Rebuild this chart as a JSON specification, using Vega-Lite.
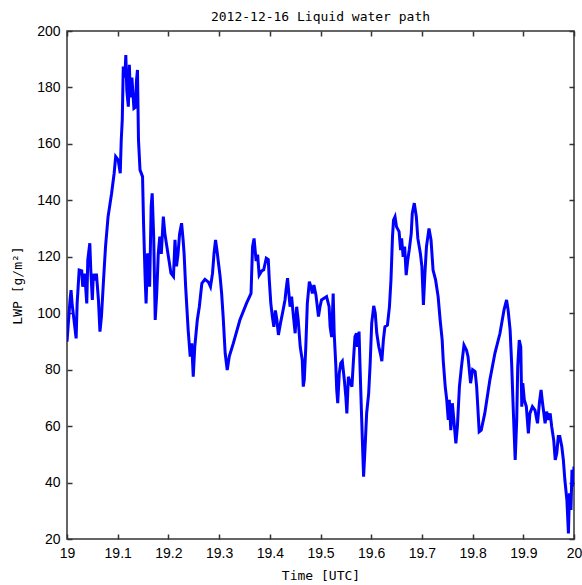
{
  "$schema": "https://vega.github.io/schema/vega-lite/v6.json",
  "width": 507,
  "height": 508,
  "autosize": "none",
  "padding": {"left": 67, "top": 31, "right": 8, "bottom": 46},
  "background": "white",
  "title": {"text": "2012-12-16 Liquid water path", "font": "DejaVu Sans Mono", "fontSize": 13, "fontWeight": "normal", "color": "#000000", "offset": 0},
  "config": {
    "view": {"stroke": "#333333", "strokeWidth": 1.5},
    "axis": {"grid": false, "domain": false, "tickColor": "#333333", "tickSize": -5, "tickWidth": 1.5,
      "labelFont": "Liberation Sans", "labelFontSize": 14, "labelColor": "#000000", "labelFlush": false, "labelOverlap": false, "labelBound": false,
      "titleFont": "DejaVu Sans Mono", "titleFontSize": 13, "titleFontWeight": "normal", "titleColor": "#000000"}
  },
  "data": {"values": [
    {"t":19.000,"lwp":89.9},{"t":19.006,"lwp":104.7},{"t":19.008,"lwp":108.2},{"t":19.010,"lwp":103.5},{"t":19.018,"lwp":91.1},{"t":19.020,"lwp":103.5},{"t":19.024,"lwp":115.3},{"t":19.029,"lwp":115},{"t":19.031,"lwp":109.4},{"t":19.035,"lwp":114},{"t":19.039,"lwp":103.5},{"t":19.041,"lwp":118.9},{"t":19.045,"lwp":124.8},{"t":19.047,"lwp":115},{"t":19.050,"lwp":104.7},{"t":19.052,"lwp":114},{"t":19.055,"lwp":111.6},{"t":19.058,"lwp":114},{"t":19.062,"lwp":104.7},{"t":19.065,"lwp":93.5},{"t":19.068,"lwp":99},{"t":19.072,"lwp":111.6},{"t":19.076,"lwp":123.6},{"t":19.081,"lwp":134.2},{"t":19.088,"lwp":142.5},{"t":19.093,"lwp":149.6},{"t":19.096,"lwp":155.5},{"t":19.101,"lwp":154.3},{"t":19.105,"lwp":149.6},{"t":19.107,"lwp":161.4},{"t":19.109,"lwp":168.5},{"t":19.111,"lwp":187.4},{"t":19.114,"lwp":183.5},{"t":19.116,"lwp":191.5},{"t":19.118,"lwp":178.9},{"t":19.121,"lwp":173.2},{"t":19.123,"lwp":188},{"t":19.125,"lwp":176.5},{"t":19.128,"lwp":183.5},{"t":19.132,"lwp":172.6},{"t":19.135,"lwp":173},{"t":19.137,"lwp":182.4},{"t":19.139,"lwp":186.2},{"t":19.141,"lwp":161.4},{"t":19.144,"lwp":150.8},{"t":19.149,"lwp":148.4},{"t":19.151,"lwp":131.9},{"t":19.154,"lwp":113},{"t":19.156,"lwp":103.5},{"t":19.159,"lwp":121.2},{"t":19.163,"lwp":109.4},{"t":19.166,"lwp":137.8},{"t":19.168,"lwp":142.5},{"t":19.171,"lwp":127},{"t":19.174,"lwp":97.6},{"t":19.177,"lwp":107},{"t":19.180,"lwp":121},{"t":19.183,"lwp":127.1},{"t":19.186,"lwp":121},{"t":19.190,"lwp":134.2},{"t":19.193,"lwp":128.3},{"t":19.197,"lwp":123.6},{"t":19.201,"lwp":118.9},{"t":19.205,"lwp":114.2},{"t":19.210,"lwp":113},{"t":19.213,"lwp":126},{"t":19.216,"lwp":116.6},{"t":19.219,"lwp":121},{"t":19.222,"lwp":128},{"t":19.226,"lwp":131.9},{"t":19.229,"lwp":126},{"t":19.231,"lwp":121},{"t":19.234,"lwp":109.4},{"t":19.239,"lwp":94},{"t":19.243,"lwp":84.6},{"t":19.246,"lwp":89.3},{"t":19.249,"lwp":77.5},{"t":19.252,"lwp":88.1},{"t":19.257,"lwp":97.6},{"t":19.261,"lwp":102.3},{"t":19.266,"lwp":110.6},{"t":19.272,"lwp":112},{"t":19.279,"lwp":111},{"t":19.283,"lwp":109.4},{"t":19.287,"lwp":114.1},{"t":19.290,"lwp":121.2},{"t":19.293,"lwp":126},{"t":19.296,"lwp":122},{"t":19.298,"lwp":118.9},{"t":19.302,"lwp":113},{"t":19.305,"lwp":107},{"t":19.308,"lwp":98.8},{"t":19.312,"lwp":85.8},{"t":19.316,"lwp":79.9},{"t":19.320,"lwp":84.6},{"t":19.328,"lwp":89.3},{"t":19.341,"lwp":97.6},{"t":19.354,"lwp":103.5},{"t":19.363,"lwp":107},{"t":19.364,"lwp":112.8},{"t":19.366,"lwp":123.6},{"t":19.369,"lwp":126.5},{"t":19.373,"lwp":118.5},{"t":19.376,"lwp":120.8},{"t":19.379,"lwp":113.5},{"t":19.384,"lwp":115},{"t":19.388,"lwp":115.4},{"t":19.393,"lwp":119.5},{"t":19.397,"lwp":119},{"t":19.399,"lwp":111.8},{"t":19.402,"lwp":103.5},{"t":19.405,"lwp":98.8},{"t":19.408,"lwp":95.2},{"t":19.411,"lwp":101},{"t":19.414,"lwp":97.6},{"t":19.417,"lwp":92.3},{"t":19.421,"lwp":96.4},{"t":19.425,"lwp":100},{"t":19.430,"lwp":104.7},{"t":19.432,"lwp":108.2},{"t":19.435,"lwp":112.4},{"t":19.437,"lwp":108.2},{"t":19.440,"lwp":102.3},{"t":19.443,"lwp":105.9},{"t":19.446,"lwp":100},{"t":19.450,"lwp":92.9},{"t":19.453,"lwp":102.3},{"t":19.456,"lwp":97.6},{"t":19.460,"lwp":88.1},{"t":19.464,"lwp":83.4},{"t":19.466,"lwp":74},{"t":19.468,"lwp":76.4},{"t":19.471,"lwp":88.1},{"t":19.474,"lwp":103.5},{"t":19.478,"lwp":111.2},{"t":19.481,"lwp":109.4},{"t":19.484,"lwp":107},{"t":19.487,"lwp":110},{"t":19.491,"lwp":106.5},{"t":19.496,"lwp":98.8},{"t":19.499,"lwp":102.3},{"t":19.502,"lwp":104.7},{"t":19.512,"lwp":105.9},{"t":19.517,"lwp":102.3},{"t":19.519,"lwp":95.2},{"t":19.522,"lwp":91.6},{"t":19.525,"lwp":107},{"t":19.527,"lwp":92.9},{"t":19.530,"lwp":82.3},{"t":19.532,"lwp":72.8},{"t":19.534,"lwp":68.1},{"t":19.537,"lwp":78.7},{"t":19.540,"lwp":82.3},{"t":19.543,"lwp":83},{"t":19.547,"lwp":76.4},{"t":19.550,"lwp":70.4},{"t":19.552,"lwp":64.5},{"t":19.555,"lwp":77.5},{"t":19.559,"lwp":75.2},{"t":19.562,"lwp":74},{"t":19.565,"lwp":83.4},{"t":19.568,"lwp":91.7},{"t":19.571,"lwp":92.9},{"t":19.573,"lwp":88.1},{"t":19.576,"lwp":93.5},{"t":19.578,"lwp":81},{"t":19.580,"lwp":69.3},{"t":19.583,"lwp":52.7},{"t":19.585,"lwp":42.1},{"t":19.588,"lwp":52.7},{"t":19.591,"lwp":64.5},{"t":19.595,"lwp":71.6},{"t":19.598,"lwp":82.3},{"t":19.601,"lwp":96.4},{"t":19.605,"lwp":102.6},{"t":19.608,"lwp":100},{"t":19.611,"lwp":92.9},{"t":19.615,"lwp":88.1},{"t":19.618,"lwp":85.8},{"t":19.621,"lwp":83},{"t":19.624,"lwp":90.5},{"t":19.627,"lwp":95.2},{"t":19.632,"lwp":95.8},{"t":19.636,"lwp":102.3},{"t":19.639,"lwp":111.8},{"t":19.642,"lwp":127.1},{"t":19.644,"lwp":133},{"t":19.647,"lwp":134.2},{"t":19.650,"lwp":130.6},{"t":19.655,"lwp":128.9},{"t":19.658,"lwp":122.4},{"t":19.660,"lwp":126.5},{"t":19.663,"lwp":120},{"t":19.666,"lwp":123.6},{"t":19.669,"lwp":113.5},{"t":19.672,"lwp":118.7},{"t":19.675,"lwp":122.4},{"t":19.679,"lwp":128.3},{"t":19.681,"lwp":135.4},{"t":19.685,"lwp":139},{"t":19.689,"lwp":134.2},{"t":19.692,"lwp":126.5},{"t":19.697,"lwp":121.2},{"t":19.700,"lwp":116.5},{"t":19.703,"lwp":102.9},{"t":19.706,"lwp":114.2},{"t":19.709,"lwp":123.6},{"t":19.714,"lwp":130},{"t":19.718,"lwp":126},{"t":19.722,"lwp":115.3},{"t":19.727,"lwp":111.8},{"t":19.732,"lwp":105.9},{"t":19.736,"lwp":97.6},{"t":19.740,"lwp":90.5},{"t":19.742,"lwp":83.4},{"t":19.746,"lwp":74},{"t":19.749,"lwp":69.3},{"t":19.752,"lwp":62.2},{"t":19.754,"lwp":69.3},{"t":19.757,"lwp":58.6},{"t":19.760,"lwp":68.1},{"t":19.763,"lwp":62.2},{"t":19.767,"lwp":53.9},{"t":19.770,"lwp":59.8},{"t":19.774,"lwp":74},{"t":19.778,"lwp":81},{"t":19.783,"lwp":88.7},{"t":19.788,"lwp":86.9},{"t":19.791,"lwp":84.6},{"t":19.796,"lwp":75.2},{"t":19.800,"lwp":80},{"t":19.805,"lwp":79.3},{"t":19.808,"lwp":74},{"t":19.813,"lwp":58},{"t":19.817,"lwp":58.6},{"t":19.824,"lwp":64.5},{"t":19.834,"lwp":76.3},{"t":19.844,"lwp":85.8},{"t":19.854,"lwp":92.9},{"t":19.862,"lwp":101.2},{"t":19.867,"lwp":104.7},{"t":19.870,"lwp":101.2},{"t":19.874,"lwp":94},{"t":19.877,"lwp":82.3},{"t":19.880,"lwp":66.9},{"t":19.884,"lwp":48},{"t":19.887,"lwp":62.2},{"t":19.889,"lwp":81},{"t":19.892,"lwp":90.5},{"t":19.895,"lwp":88.1},{"t":19.897,"lwp":66.9},{"t":19.899,"lwp":75.2},{"t":19.902,"lwp":69.3},{"t":19.906,"lwp":66.9},{"t":19.910,"lwp":57.4},{"t":19.913,"lwp":64.5},{"t":19.918,"lwp":66.9},{"t":19.923,"lwp":65.7},{"t":19.928,"lwp":61},{"t":19.932,"lwp":68.7},{"t":19.935,"lwp":72.8},{"t":19.938,"lwp":68.1},{"t":19.943,"lwp":61},{"t":19.946,"lwp":65.1},{"t":19.950,"lwp":62.2},{"t":19.953,"lwp":64.5},{"t":19.956,"lwp":59.8},{"t":19.960,"lwp":55},{"t":19.963,"lwp":48},{"t":19.966,"lwp":50.4},{"t":19.969,"lwp":56.3},{"t":19.972,"lwp":56.3},{"t":19.976,"lwp":52.7},{"t":19.979,"lwp":48},{"t":19.982,"lwp":40.9},{"t":19.986,"lwp":33.8},{"t":19.989,"lwp":22},{"t":19.991,"lwp":36.2},{"t":19.994,"lwp":30.3},{"t":19.996,"lwp":44.5},{"t":19.998,"lwp":38.6},{"t":20.000,"lwp":45.7}
  ]},
  "layer": [
    {
      "mark": {"type": "line", "color": "#0000ff", "strokeWidth": 3, "clip": true},
      "encoding": {
        "x": {"field": "t", "type": "quantitative", "scale": {"domain": [19, 20], "nice": false, "zero": false},
          "axis": {"orient": "bottom", "values": [19, 19.1, 19.2, 19.3, 19.4, 19.5, 19.6, 19.7, 19.8, 19.9, 20], "format": "~g", "title": "Time [UTC]", "labelPadding": 12, "titlePadding": 9}},
        "y": {"field": "lwp", "type": "quantitative", "scale": {"domain": [20, 200], "nice": false, "zero": false},
          "axis": {"orient": "left", "values": [20, 40, 60, 80, 100, 120, 140, 160, 180, 200], "title": "LWP [g/m²]", "labelPadding": 12, "titlePadding": 12}}
      }
    },
    {
      "mark": {"type": "line", "opacity": 0},
      "encoding": {
        "x": {"field": "t", "type": "quantitative", "scale": {"domain": [19, 20], "nice": false, "zero": false},
          "axis": {"orient": "top", "values": [19, 19.1, 19.2, 19.3, 19.4, 19.5, 19.6, 19.7, 19.8, 19.9, 20], "labels": false, "title": null}},
        "y": {"field": "lwp", "type": "quantitative", "scale": {"domain": [20, 200], "nice": false, "zero": false},
          "axis": {"orient": "right", "values": [20, 40, 60, 80, 100, 120, 140, 160, 180, 200], "labels": false, "title": null}}
      }
    }
  ],
  "resolve": {"axis": {"x": "independent", "y": "independent"}}
}
